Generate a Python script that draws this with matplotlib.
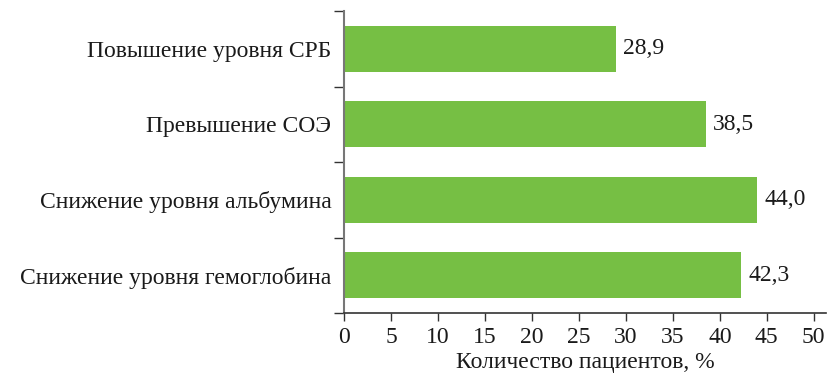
import matplotlib
matplotlib.use('Agg')
import matplotlib.pyplot as plt
import numpy as np

categories = ['Снижение уровня гемоглобина', 'Снижение уровня альбумина',
              'Превышение СОЭ', 'Повышение уровня СРБ']
values = [42.3, 44.0, 38.5, 28.9]
labels = ['42,3', '44,0', '38,5', '28,9']
xticks = [0, 5, 10, 15, 20, 25, 30, 35, 40, 45, 50]

plt.rcParams['font.family'] = ['Liberation Serif', 'DejaVu Serif']
fs = 17

fig = plt.figure(figsize=(8.39, 3.75), dpi=100)
ax = fig.add_axes([344/839., 1-313/375., (826-344)/839., (313-11)/375.])

y = np.arange(len(categories))
ax.barh(y, values, height=0.61, color='#76bf44')
for yi, v, s in zip(y, values, labels):
    ax.text(v + 0.8, yi, s, va='center', ha='left', fontsize=fs, color='#1a1a1a')

ax.set_xlim(0, 51.3)
ax.set_ylim(-0.5, len(categories) - 0.5)
ax.set_xticks(xticks)
ax.set_xticklabels([str(t) for t in xticks], fontsize=fs, color='#1a1a1a')
ax.set_yticks(y)
ax.set_yticklabels(categories, fontsize=fs, color='#1a1a1a')
ax.set_yticks(np.arange(-0.5, len(categories)), minor=True)
ax.tick_params(axis='y', which='major', length=0, pad=9)
ax.tick_params(axis='y', which='minor', length=7, width=1, color='#333333')
ax.tick_params(axis='x', length=6, width=1, color='#333333', pad=4)
ax.set_xlabel('Количество пациентов, %', fontsize=fs, color='#1a1a1a', labelpad=3)

for side in ['top', 'right']:
    ax.spines[side].set_visible(False)
ax.spines['left'].set_color('#777777')
ax.spines['left'].set_linewidth(1.5)
ax.spines['bottom'].set_color('#333333')
ax.spines['bottom'].set_linewidth(1.2)

plt.savefig('out.png', dpi=100)
